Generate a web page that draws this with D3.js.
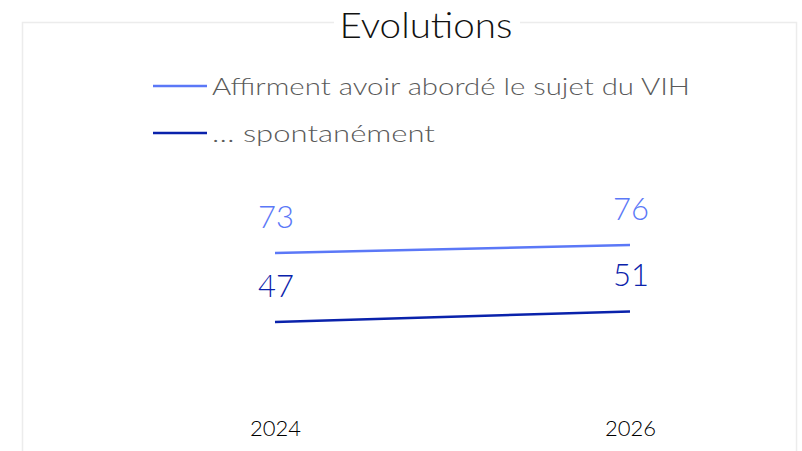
<!DOCTYPE html>
<html>
<head>
<meta charset="utf-8">
<script src="https://cdn.jsdelivr.net/npm/d3@7"></script>
<style>
  body { margin: 0; background: #fff; }
  svg { display: block; font-family: Lato, "Noto Sans", sans-serif; }
</style>
</head>
<body>
<svg id="chart" width="802" height="451"></svg>
<script>
// data
const years = ['2024', '2026'];
const seriesNames = ['Affirment avoir abordé le sujet du VIH', '… spontanément'];
const seriesColors = ['#5b78f7', '#0a22ab'];
const affirmentValues = [73, 76];
const spontanementValues = [47, 51];

const series = [
  {name: seriesNames[0], color: seriesColors[0], values: affirmentValues},
  {name: seriesNames[1], color: seriesColors[1], values: spontanementValues},
];

const svg = d3.select('#chart');

// frame around the chart
svg.append('rect')
  .attr('x', 22.5)
  .attr('y', 22.5)
  .attr('width', 774)
  .attr('height', 440)
  .attr('fill', 'none')
  .attr('stroke', '#ececec')
  .attr('stroke-width', 1.5);

// title sits on top of the frame line
svg.append('rect')
  .attr('x', 334)
  .attr('y', 10)
  .attr('width', 186)
  .attr('height', 30)
  .attr('fill', '#fff');

svg.append('text')
  .attr('x', 426)
  .attr('y', 38)
  .attr('text-anchor', 'middle')
  .attr('font-size', 35)
  .attr('font-weight', 300)
  .attr('fill', '#111')
  .attr('textLength', 173)
  .attr('lengthAdjust', 'spacingAndGlyphs')
  .text('Evolutions');

// legend
const legendWidths = [478, 223];
const legend = svg.append('g')
  .selectAll('g')
  .data(series)
  .join('g')
  .attr('transform', (d, i) => `translate(153, ${86 + i * 47})`);

legend.append('line')
  .attr('x1', 0)
  .attr('x2', 54)
  .attr('stroke', (d) => d.color)
  .attr('stroke-width', 2.5);

legend.append('text')
  .attr('x', 59)
  .attr('y', 9)
  .attr('font-size', 24)
  .attr('font-weight', 300)
  .attr('fill', '#5a5a5a')
  .attr('textLength', (d, i) => legendWidths[i])
  .attr('lengthAdjust', 'spacingAndGlyphs')
  .text((d) => d.name);

// scales
const x = d3.scalePoint()
  .domain(years)
  .range([275, 630]);

const y = d3.scaleLinear()
  .domain([47, 73])
  .range([322, 253]);

// x axis labels only
const xAxis = svg.append('g')
  .attr('transform', 'translate(0, 420)')
  .call(d3.axisBottom(x).tickSize(0).tickPadding(0));
xAxis.select('.domain').remove();
xAxis.selectAll('text')
  .attr('font-size', 22)
  .attr('fill', '#000')
  .attr('font-family', 'Lato, "Noto Sans", sans-serif')
  .attr('font-weight', 300)
  .attr('dy', '0.71em');

const line = d3.line()
  .x((d, i) => x(years[i]))
  .y((d) => y(d));

svg.append('g')
  .selectAll('path')
  .data(series)
  .join('path')
  .attr('d', (d) => line(d.values))
  .attr('fill', 'none')
  .attr('stroke', (d) => d.color)
  .attr('stroke-width', 2.5);

// value labels
const labels = svg.append('g')
  .selectAll('g')
  .data(series)
  .join('g');

labels.selectAll('text')
  .data((d) => d.values.map((v, i) => ({v, i, color: d.color})))
  .join('text')
  .attr('x', (d) => x(years[d.i]) + 1)
  .attr('y', (d) => y(d.v) - 25)
  .attr('text-anchor', 'middle')
  .attr('font-size', 31)
  .attr('font-weight', 300)
  .attr('fill', (d) => d.color)
  .text((d) => d.v);
</script>
</body>
</html>
